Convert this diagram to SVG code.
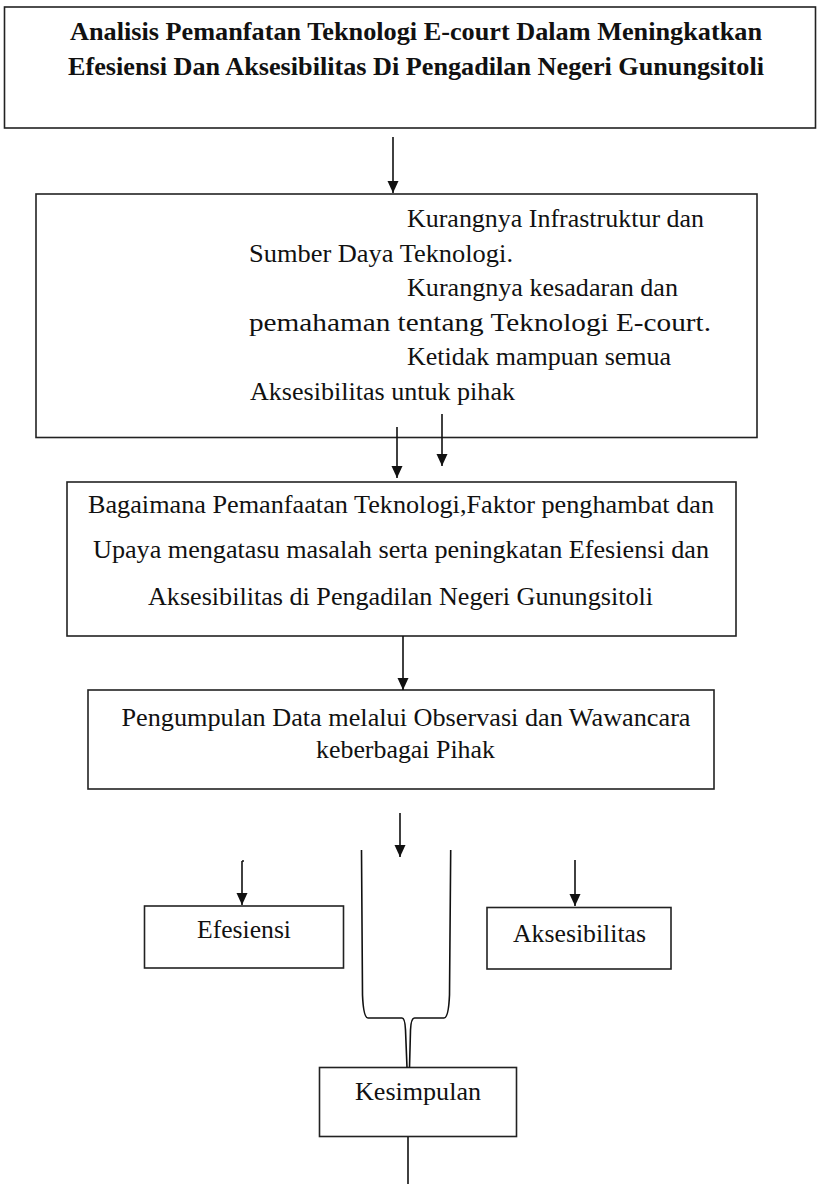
<svg xmlns="http://www.w3.org/2000/svg" width="817" height="1184" viewBox="0 0 817 1184">
<style>
.box{fill:#fff;stroke:#222;stroke-width:1.6}
.t{font-family:"Liberation Serif","Times New Roman",serif;font-size:25px;fill:#111}
.tb{font-family:"Liberation Serif","Times New Roman",serif;font-size:26px;font-weight:bold;fill:#111}
.c{fill:none;stroke:#111;stroke-width:1.6}
</style>
<defs>
<marker id="ah" markerUnits="userSpaceOnUse" markerWidth="12" markerHeight="12" refX="12" refY="6" orient="auto">
<path d="M0,0.5 L12,6 L0,11.5 z" fill="#111"/>
</marker>
</defs>
<rect width="817" height="1184" fill="#fff"/>
<g id="title">
<rect class="box" x="4.5" y="7" width="811" height="121"/>
<text class="tb" x="70" y="40" textLength="692" lengthAdjust="spacingAndGlyphs">Analisis Pemanfatan Teknologi E-court Dalam Meningkatkan</text>
<text class="tb" x="68" y="74.5" textLength="696" lengthAdjust="spacingAndGlyphs">Efesiensi Dan Aksesibilitas Di Pengadilan Negeri Gunungsitoli</text>
</g>
<g id="masalah">
<rect class="box" x="36" y="194" width="721" height="243.5"/>
<text class="t" x="407" y="227" textLength="297" lengthAdjust="spacingAndGlyphs">Kurangnya Infrastruktur dan</text>
<text class="t" x="249" y="261.5" textLength="264" lengthAdjust="spacingAndGlyphs">Sumber Daya Teknologi.</text>
<text class="t" x="407" y="296" textLength="271" lengthAdjust="spacingAndGlyphs">Kurangnya kesadaran dan</text>
<text class="t" x="249" y="330.5" textLength="462" lengthAdjust="spacingAndGlyphs">pemahaman tentang Teknologi E-court.</text>
<text class="t" x="407" y="365" textLength="264" lengthAdjust="spacingAndGlyphs">Ketidak mampuan semua</text>
<text class="t" x="250" y="399.5" textLength="265" lengthAdjust="spacingAndGlyphs">Aksesibilitas untuk pihak</text>
</g>
<g id="rumusan">
<rect class="box" x="67" y="482" width="669" height="154"/>
<text class="t" x="88" y="513" textLength="626" lengthAdjust="spacingAndGlyphs">Bagaimana Pemanfaatan Teknologi,Faktor penghambat dan</text>
<text class="t" x="93" y="558" textLength="616" lengthAdjust="spacingAndGlyphs">Upaya mengatasu masalah serta peningkatan Efesiensi dan</text>
<text class="t" x="148" y="605" textLength="505" lengthAdjust="spacingAndGlyphs">Aksesibilitas di Pengadilan Negeri Gunungsitoli</text>
</g>
<g id="pengumpulan">
<rect class="box" x="88" y="690" width="626" height="99"/>
<text class="t" x="121.5" y="726" textLength="569" lengthAdjust="spacingAndGlyphs">Pengumpulan Data melalui Observasi dan Wawancara</text>
<text class="t" x="316" y="758" textLength="179" lengthAdjust="spacingAndGlyphs">keberbagai Pihak</text>
</g>
<g id="efesiensi">
<rect class="box" x="144.5" y="906" width="199" height="62"/>
<text class="t" x="197" y="938" textLength="94" lengthAdjust="spacingAndGlyphs">Efesiensi</text>
</g>
<g id="aksesibilitas">
<rect class="box" x="487" y="907.5" width="184" height="61.5"/>
<text class="t" x="513" y="941.5" textLength="133" lengthAdjust="spacingAndGlyphs">Aksesibilitas</text>
</g>
<g id="kesimpulan">
<rect class="box" x="319.5" y="1067.5" width="197" height="69"/>
<text class="t" x="355" y="1100" textLength="126" lengthAdjust="spacingAndGlyphs">Kesimpulan</text>
</g>
<g id="connectors">
<line class="c" x1="393" y1="137" x2="393" y2="193" marker-end="url(#ah)"/>
<line class="c" x1="397" y1="427" x2="397" y2="478" marker-end="url(#ah)"/>
<line class="c" x1="442" y1="414" x2="442" y2="466" marker-end="url(#ah)"/>
<line class="c" x1="403" y1="636" x2="403" y2="690" marker-end="url(#ah)"/>
<line class="c" x1="400" y1="813" x2="400" y2="857" marker-end="url(#ah)"/>
<line class="c" x1="242" y1="861" x2="242" y2="905" marker-end="url(#ah)"/>
<path class="c" d="M242,861 L244,861"/>
<line class="c" x1="575" y1="860" x2="575" y2="906" marker-end="url(#ah)"/>
<path class="c" d="M361.5,850 L362.5,995 Q363.5,1018 368,1018 L402,1018 Q405,1018 405.5,1030 L407,1067.5"/>
<path class="c" d="M450.7,850 L449.5,995 Q448.5,1018 444,1018 L414.5,1018 Q411,1018 410.5,1030 L409.5,1067.5"/>
<line class="c" x1="408" y1="1137" x2="408" y2="1184"/>
</g>
</svg>
